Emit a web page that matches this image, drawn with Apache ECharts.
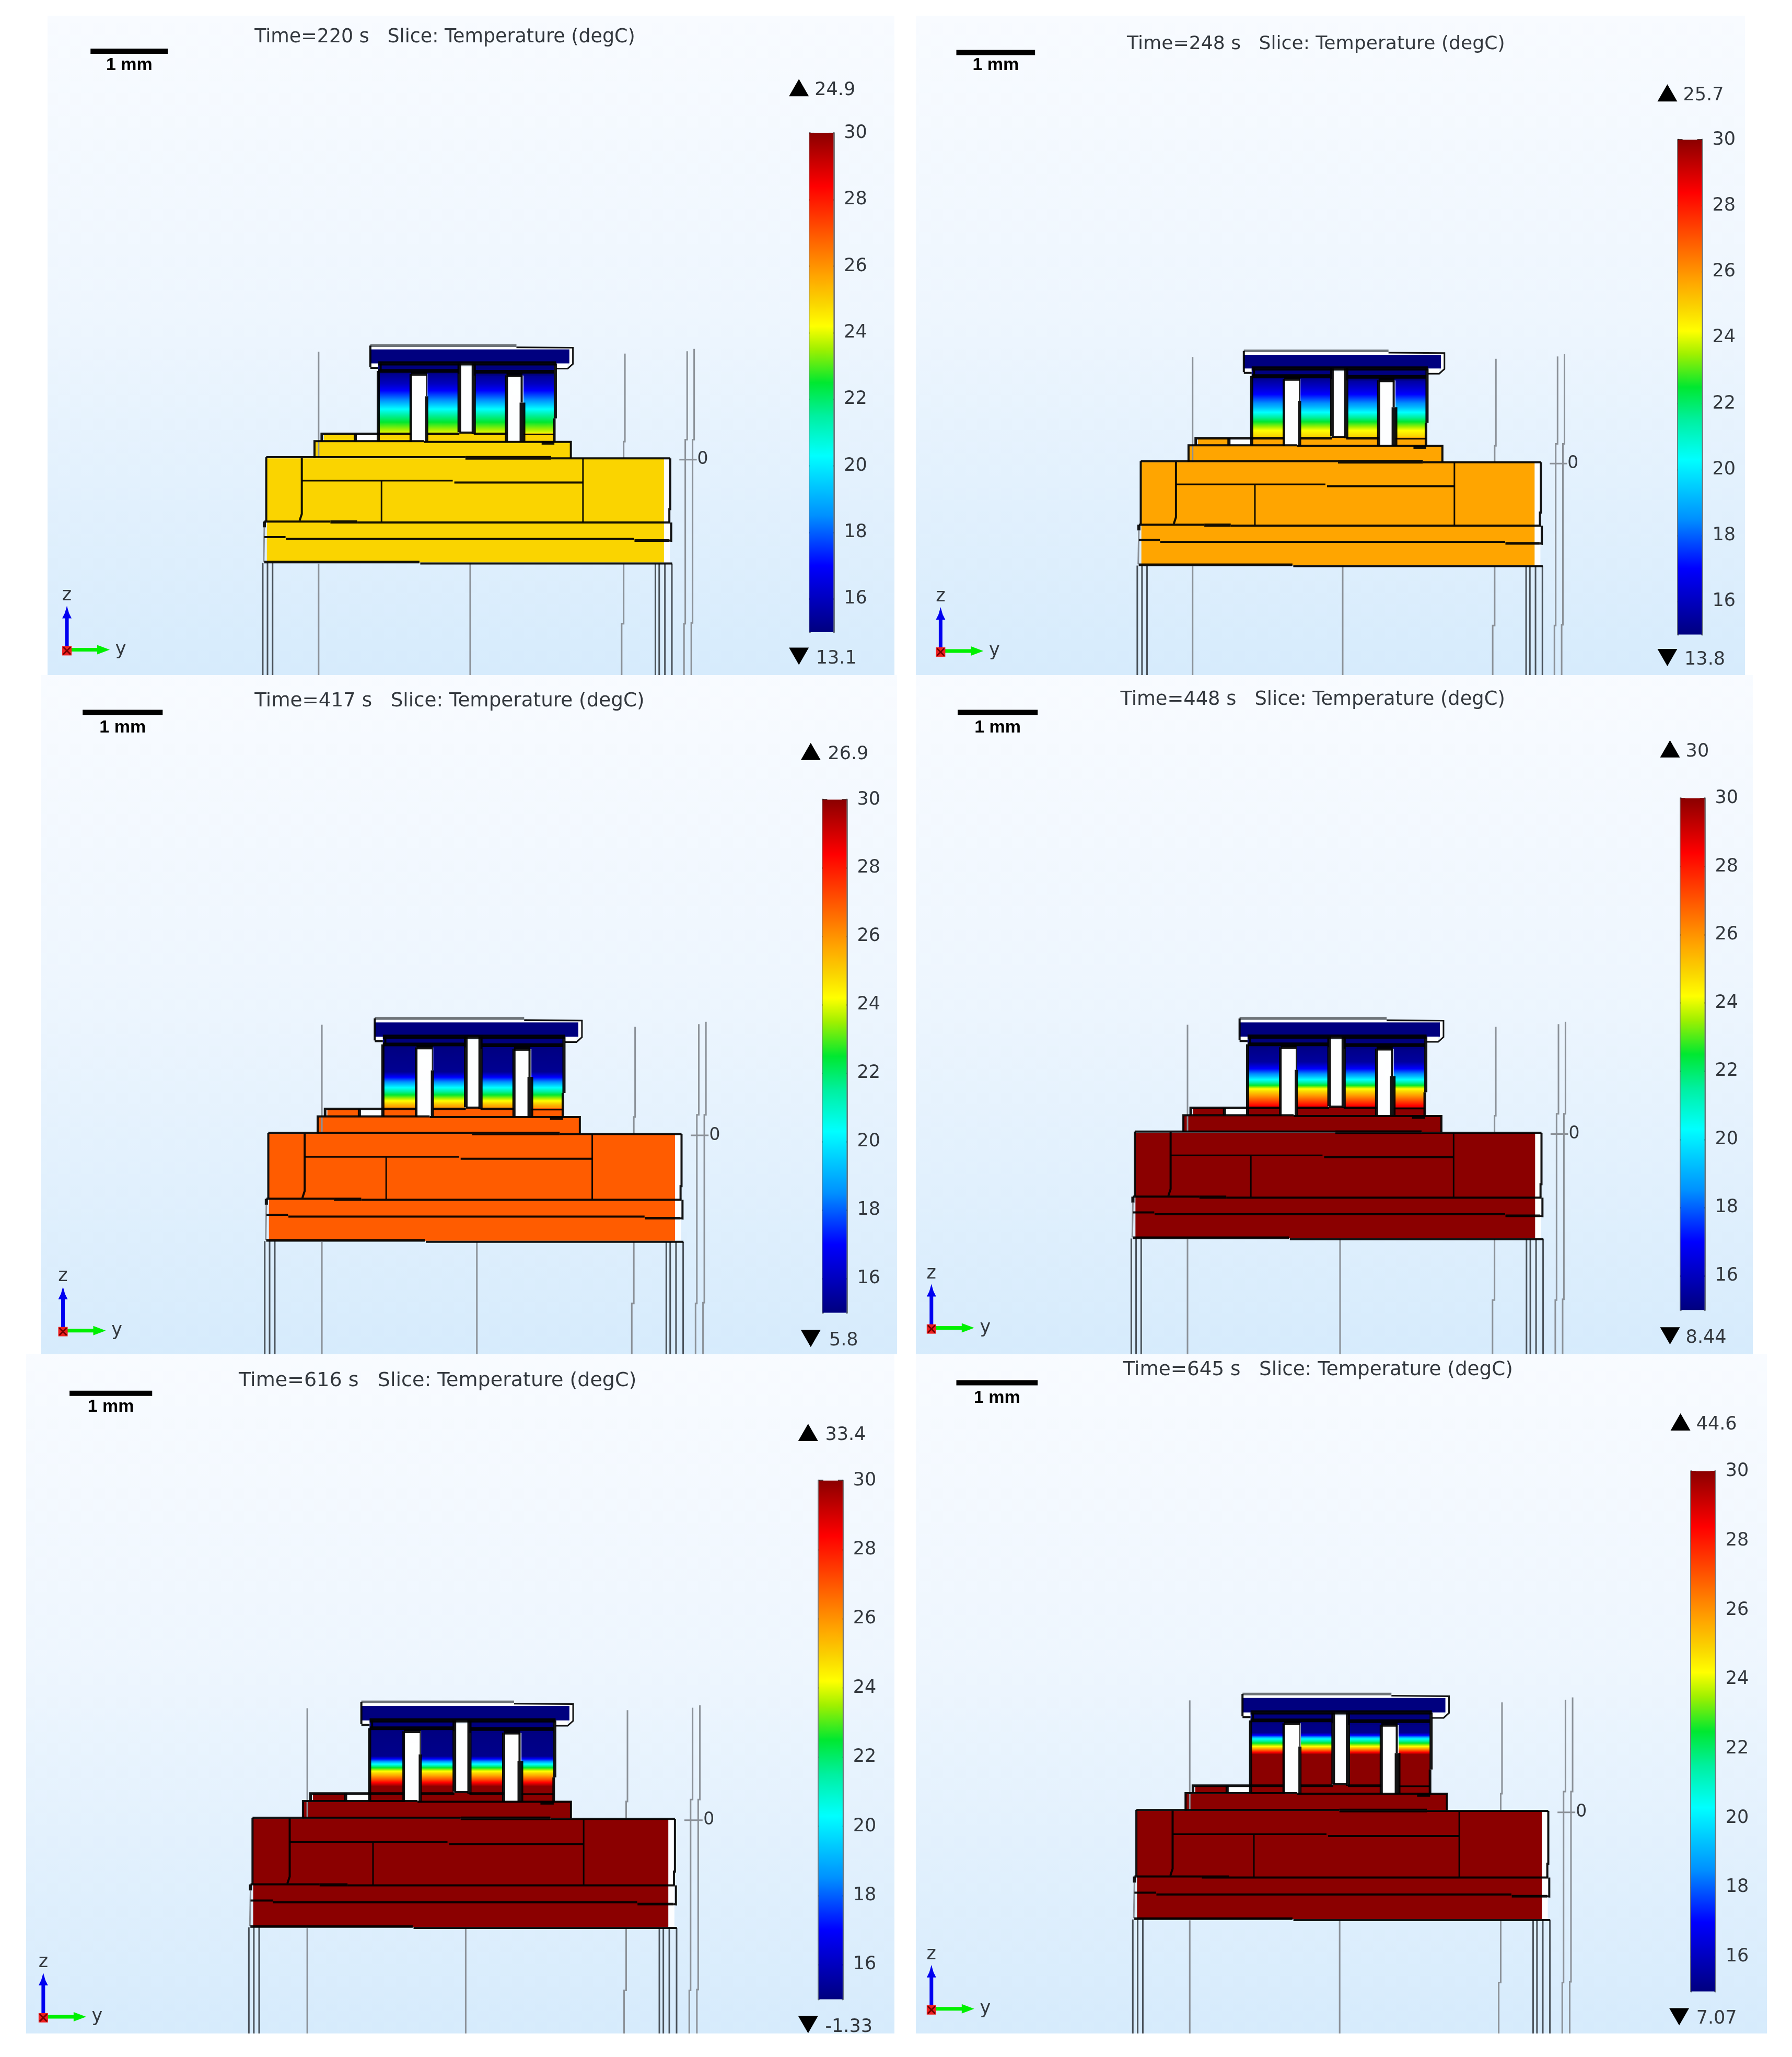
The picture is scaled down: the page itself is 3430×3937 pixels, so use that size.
<!DOCTYPE html>
<html><head><meta charset="utf-8">
<style>html,body{margin:0;padding:0;background:#fff}#c{width:3430px;height:3937px}</style>
<script src="https://cdn.jsdelivr.net/npm/echarts@6/dist/echarts.min.js"></script>
</head><body><div id="c"></div>
<script>
// ---------- chart values ----------
const times = [220, 248, 417, 448, 616, 645];
const maxTemps = ['24.9', '25.7', '26.9', '30', '33.4', '44.6'];
const minTemps = ['13.1', '13.8', '5.8', '8.44', '-1.33', '7.07'];
const blockTemps = [24.9, 25.7, 26.9, 30, 30, 30];
const colorTicks = [16, 18, 20, 22, 24, 26, 28, 30];
// temperature (degC) -> colour table of the legend
const mapT = [15, 17, 18.5, 20.3, 21.5, 22.5, 23.5, 24.2, 24.9, 25.7, 26.9, 28.4, 30];
const mapC = ['#00007f', '#0000ff', '#0090ff', '#00ffff', '#00f0a0', '#00e830', '#a0f000', '#ffff00', '#fad400', '#ffa500', '#ff5c00', '#ff0000', '#8b0000'];
// pillar temperature profiles: height z (um) and temperature (degC)
const profZ1 = [1100, 940, 852, 730, 617, 540, 452, 314]; const profT1 = [15, 16, 17, 18.5, 20.3, 21.5, 22.5, 24];
const profZ2 = [1100, 954, 866, 711, 634, 513, 402, 314]; const profT2 = [15, 16.2, 17, 19, 20.3, 22.5, 24.2, 25];
const profZ3 = [1100, 762, 695, 586, 477, 412, 346, 314]; const profT3 = [15, 15.3, 17, 19.8, 22.5, 24, 25.5, 26];
const profZ4 = [1100, 879, 793, 705, 651, 586, 542, 466, 401, 336, 314]; const profT4 = [15, 15.5, 17, 19, 20.5, 22.5, 24.2, 25.7, 27, 28.3, 28.8];
const profZ5 = [1100, 759, 705, 662, 618, 575, 521, 477, 434, 390, 314]; const profT5 = [15, 15.2, 18, 20.3, 22.5, 24.2, 25.7, 27, 28.5, 30, 30];
const profZ6 = [1100, 949, 917, 874, 822, 779, 748, 716, 684, 314]; const profT6 = [15, 15.2, 17, 20.3, 22.5, 24.3, 26, 28, 30, 30];
const profiles = [[profZ1, profT1], [profZ2, profT2], [profZ3, profT3], [profZ4, profT4], [profZ5, profT5], [profZ6, profT6]];
// device geometry in micrometres: [y0, y1, z0, z1]
const baseBlock = [-2566, 2446, -1325, -6];
const stepBlock = [-1965, 1271, 0, 205];
const padBlocks = [[-1845, -1456, 211, 303], [-1160, -749, 203, 314], [-538, 451, 203, 314], [673, 1060, 203, 314]];
const pillars = [[-1160, -749], [-538, -149], [62, 451], [673, 1060]];
const pillarZ = [314, 1100];
const coldBlocks = [[-1260, 1252, 1196, 1373], [-1160, -137, 1064, 1196], [45, 1060, 1042, 1196]];
const voids = [[-738, -549, 203, 1064], [-127, 24, 325, 1153], [473, 650, 203, 1042], [-1432, -1163, 225, 290], [-1240, 584, 1373, 1406], [584, 1290, 1373, 1392], [1252, 1290, 1150, 1395], [1060, 1230, 1138, 1196], [-1250, -1160, 1150, 1196], [2446, 2520, -1325, -6]];
const blackLines = [
  [4, [[-2574, 8], [-60, 8]]], [7, [[-60, 0], [1022, 0]]], [4, [[1022, -6], [2526, -6]]],
  [4, [[-2574, 8], [-2574, -800]]], [6, [[-2598, -806], [-2598, -880]]], [4, [[2526, -6], [2526, -650], [2514, -650], [2514, -815]]],
  [4, [[2538, -818], [2538, -1050], [2510, -1046]]],
  [4, [[-2125, 0], [-2125, -710], [-2153, -795]]], [3, [[-2125, -289], [-220, -289]]], [4, [[-200, -312], [1424, -312]]],
  [3, [[1424, -6], [1424, -815]]], [3, [[-1119, -295], [-1119, -810]]],
  [4, [[-2598, -806], [-1764, -806]]], [6, [[-1764, -812], [-1427, -812]]], [4, [[-1427, -818], [2526, -818]]],
  [4, [[-2598, -1003], [-2330, -1003]]], [4, [[-2326, -1026], [2070, -1026]]], [5, [[2074, -1046], [2510, -1046]]],
  [5, [[-2600, -1320], [-640, -1320]]], [4, [[-630, -1338], [2550, -1338]]],
  [4, [[-1965, 0], [-1965, 212], [-583, 212]]], [4, [[-582, 203], [1271, 203], [1271, 0]]], [6, [[902, 187], [1063, 187]]],
  [5, [[-1873, 211], [-1873, 303], [-749, 303]]], [6, [[-1450, 211], [-1450, 303]]], [5, [[-538, 303], [-137, 303]]], [5, [[45, 303], [458, 303]]], [3, [[673, 296], [1060, 296]]],
  [4, [[-1260, 1150], [-1260, 1422]]], [3, [[1085, 1130], [1230, 1130], [1297, 1190], [1297, 1395], [584, 1400]]], [4, [[-1260, 1140], [-1160, 1140]]],
  [8, [[-1160, 1196], [1085, 1196]]], [7, [[-1160, 1100], [-149, 1100]]], [7, [[62, 1090], [1060, 1090]]],
  [6, [[-1160, 1100], [-1160, 210]]], [4, [[-1130, 1196], [-1130, 1100]]], [5, [[-749, 1064], [-749, 203]]],
  [2, [[-549, 1064], [-549, 780]]], [6, [[-549, 780], [-549, 203]]], [8, [[-745, 1066], [-545, 1066]]],
  [7, [[-137, 1196], [-137, 325]]], [4, [[-137, 320], [30, 320]]], [8, [[45, 1196], [45, 300]]],
  [6, [[458, 1045], [458, 203]]], [8, [[458, 1048], [660, 1048]]], [4, [[650, 1042], [650, 700]]], [11, [[660, 700], [660, 203]]],
  [6, [[1075, 1196], [1075, 500]]], [5, [[1062, 500], [1062, 203]]]
];
const greyTopLine = [[-1260, 1422], [584, 1422]];
const frameLines = [
  [[-2598, -880], [-2606, -1315]], [[-1913, 1344], [-1913, 0]], [[-1913, -1340], [-1913, -3300]],
  [[1953, 1320], [1953, 205], [1937, 205], [1937, 0]], [[1937, -1340], [1937, -2100], [1912, -2100], [1912, -3300]],
  [[2739, 1350], [2739, 230], [2715, 230], [2715, -2100], [2699, -2100], [2699, -3300]],
  [[2827, 1380], [2827, 230], [2807, 230], [2807, -2090], [2791, -2090], [2791, -3300]],
  [[2640, -23], [2860, -23]]
];
const centreLineY = [0, 0, 0, 0, 0, -57];
const legLines = [[-2618, -1330], [-2558, -1330], [-2494, -1330], [2338, -1340], [2386, -1340], [2458, -1340], [2546, -1340]];
const zeroLabel = [2935, -23];
// ---------- layout (full-size panel rectangles, reference scale) ----------
const K = 3430 / 1366;
const panels = [[91, 30, 1712, 1292], [1753, 30, 3340, 1292], [78, 1292, 1717, 2592], [1753, 1292, 3355, 2592], [50, 2592, 1712, 3892], [1753, 2592, 3382, 3892]];
const cal = [[203, 511, 358.4, 349, 429], [869, 1174, 1023.5, 352, 431], [204, 519, 363.5, 864, 946], [864, 1174, 1021.5, 863, 944], [192, 514, 355, 1386, 1469], [866, 1180, 1024.7, 1380, 1463]];
const bars = [[617, 101.5, 456.5], [1279, 106.5, 458.5], [627, 609.5, 974.5], [1281, 608.5, 972.5], [624, 1128.5, 1497.5], [1289, 1121.5, 1491.5]];
const titlePos = [[194, 28.5, 290], [859, 33.5, 288], [194, 534.5, 297], [854, 533.5, 293], [182, 1052.5, 303], [856, 1044.5, 297]];
const upPos = [[609, 67, 621], [1271, 71, 1283], [618, 573, 631], [1273, 571, 1285], [616, 1092, 629], [1281, 1084, 1293]];
const downPos = [[609, 500, 622], [1271, 501, 1284], [618, 1020, 632], [1273, 1018, 1285], [616, 1543, 629], [1280, 1537, 1293]];
const scalePos = [[69, 128, 39, 49.5], [729, 789, 40, 49.5], [63, 124, 543, 554.5], [730, 791, 543, 554.5], [53, 116, 1062, 1072.5], [729, 791, 1054, 1065.5]];
const triad = [[51, 496], [717, 497], [48, 1015], [710, 1013], [33, 1538], [710, 1532]];
const FONT = '"DejaVu Sans"';
const TXT = '#33383e';

function hex(c) { return [1, 3, 5].map(i => parseInt(c.substr(i, 2), 16)); }
function colorAt(t) {
  if (t <= mapT[0]) return mapC[0];
  for (let i = 1; i < mapT.length; i++) if (t <= mapT[i]) {
    const f = (t - mapT[i - 1]) / (mapT[i] - mapT[i - 1]), a = hex(mapC[i - 1]), b = hex(mapC[i]);
    return 'rgb(' + a.map((v, k) => Math.round(v + (b[k] - v) * f)).join(',') + ')';
  }
  return mapC[mapC.length - 1];
}
function gradientFor(zs, ts) { // top (z max) -> bottom
  const top = zs[0], bot = zs[zs.length - 1], stops = [];
  zs.forEach((z, i) => stops.push({ offset: (top - z) / (top - bot), color: colorAt(ts[i]) }));
  for (let i = 1; i < zs.length; i++) mapT.forEach(m => {
    if (m > ts[i - 1] && m < ts[i]) {
      const f = (m - ts[i - 1]) / (ts[i] - ts[i - 1]);
      stops.push({ offset: (top - (zs[i - 1] + (zs[i] - zs[i - 1]) * f)) / (top - bot), color: colorAt(m) });
    }
  });
  stops.sort((a, b) => a.offset - b.offset);
  return new echarts.graphic.LinearGradient(0, 0, 0, 1, stops);
}
const grid = [], xAxis = [], yAxis = [], series = [], graphic = [];
panels.forEach((p, n) => {
  const c = cal[n];
  const sx = (c[1] - c[0]) * K / 5100, sz = (c[4] - c[3]) * K / 1329;
  const xc = c[2] * K, z0 = c[3] * K;
  const g = grid.length, xi = xAxis.length, yi = yAxis.length;
  grid.push({
    left: p[0], top: p[1], width: p[2] - p[0], height: p[3] - p[1], show: true, borderWidth: 0,
    backgroundColor: new echarts.graphic.LinearGradient(0, 0, 0, 1, [{ offset: 0, color: '#f8fbff' }, { offset: 0.45, color: '#eef6fe' }, { offset: 1, color: '#d6ebfc' }])
  });
  xAxis.push({ type: 'value', gridIndex: g, show: false, min: (p[0] - xc) / sx, max: (p[2] - xc) / sx });
  yAxis.push({ type: 'value', gridIndex: g, show: false, min: (z0 - p[3]) / sz, max: (z0 - p[1]) / sz });
  const block = colorAt(blockTemps[n]);
  const rects = [];
  voids.forEach(r => rects.push([r, '#ffffff', 0.92]));
  rects.push([baseBlock, block, 1], [stepBlock, block, 1]);
  padBlocks.forEach(r => rects.push([r, block, 1]));
  const pr = profiles[n], grad = gradientFor(pr[0], pr[1]);
  pillars.forEach(r => rects.push([[r[0], r[1], pillarZ[0], pillarZ[1]], grad, 1]));
  coldBlocks.forEach(r => rects.push([r, '#00007f', 1]));
  series.push({
    type: 'custom', xAxisIndex: xi, yAxisIndex: yi, silent: true, clip: true, z: 3,
    data: rects.map((r, i) => [i]),
    renderItem(params, api) {
      const r = rects[params.dataIndex], a = api.coord([r[0][0], r[0][3]]), b = api.coord([r[0][1], r[0][2]]);
      return { type: 'rect', shape: { x: a[0], y: a[1], width: b[0] - a[0], height: b[1] - a[1] }, style: { fill: r[1], opacity: r[2] } };
    }
  });
  const lines = [];
  frameLines.forEach(l => lines.push([l, '#8b9198', 3]));
  lines.push([[[centreLineY[n], -1340], [centreLineY[n], -3300]], '#8b9198', 3]);
  legLines.forEach(l => lines.push([[l, [l[0], -3300]], '#4a525a', 3]));
  lines.push([greyTopLine, '#6d7378', 5]);
  blackLines.forEach(l => lines.push([l[1], 'rgba(0,0,0,0.92)', l[0]]));
  series.push({
    type: 'custom', xAxisIndex: xi, yAxisIndex: yi, silent: true, clip: true, z: 4,
    data: lines.map((r, i) => [i]),
    renderItem(params, api) {
      const r = lines[params.dataIndex];
      return { type: 'polyline', shape: { points: r[0].map(q => api.coord(q)) }, style: { stroke: r[1], lineWidth: r[2], fill: null } };
    }
  });
  series.push({
    type: 'custom', xAxisIndex: xi, yAxisIndex: yi, silent: true, clip: false, z: 5,
    data: [zeroLabel],
    renderItem(params, api) {
      const q = api.coord([api.value(0), api.value(1)]);
      return { type: 'text', x: q[0], y: q[1], style: { text: '0', fill: TXT, fontFamily: FONT, fontSize: 33, align: 'center', verticalAlign: 'middle' } };
    }
  });
  // colour legend
  const b = bars[n], gb = grid.length, top = b[1] * K, per = (b[2] - b[1]) * K / 14;
  const xb = xAxis.length, yb = yAxis.length;
  grid.push({ left: b[0] * K, top: top, width: 46, height: per * 15, borderWidth: 0, show: false });
  xAxis.push({ type: 'value', gridIndex: gb, show: false, min: 0, max: 1 });
  const barAxis = (pos, labels) => ({
    type: 'value', gridIndex: gb, position: pos, min: 15, max: 30,
    splitLine: { show: false },
    axisLine: { show: true, onZero: false, lineStyle: { color: 'rgba(0,0,0,0.5)', width: 4 } },
    axisTick: { show: true, inside: true, length: 9, customValues: colorTicks, lineStyle: { color: 'rgba(0,0,0,0.75)', width: 3 } },
    axisLabel: labels ? { show: true, customValues: colorTicks, margin: 20, color: TXT, fontFamily: FONT, fontSize: 35, padding: [8, 0, 0, 0] } : { show: false }
  });
  yAxis.push(barAxis('left', false));
  yAxis.push(barAxis('right', true));
  series.push({
    type: 'custom', xAxisIndex: xb, yAxisIndex: yb, silent: true, z: 1,
    data: [[0, 1, 15, 30]],
    renderItem(params, api) {
      const a = api.coord([api.value(0), api.value(3)]), d = api.coord([api.value(1), api.value(2)]);
      return { type: 'rect', shape: { x: a[0], y: a[1], width: d[0] - a[0], height: d[1] - a[1] },
        style: { fill: gradientFor(mapT.slice().reverse(), mapT.slice().reverse()) } };
    }
  });
  // texts and decorations
  const t = titlePos[n];
  graphic.push({ type: 'text', x: t[0] * K, y: t[1] * K, z: 20, style: { text: 'Time=' + times[n] + ' s   Slice: Temperature (degC)', fontFamily: FONT, fontSize: t[2] * 0.1256, fill: TXT, verticalAlign: 'middle' } });
  const u = upPos[n], d = downPos[n], ux = u[0] * K, uy = u[1] * K, dx = d[0] * K, dy = d[1] * K;
  graphic.push({ type: 'polygon', z: 20, shape: { points: [[ux - 19, uy + 16], [ux + 19, uy + 16], [ux, uy - 17]] }, style: { fill: '#000' } });
  graphic.push({ type: 'polygon', z: 20, shape: { points: [[dx - 19, dy - 16], [dx + 19, dy - 16], [dx, dy + 17]] }, style: { fill: '#000' } });
  graphic.push({ type: 'text', x: u[2] * K, y: uy + 5, z: 20, style: { text: maxTemps[n], fontFamily: FONT, fontSize: 35, fill: TXT, verticalAlign: 'middle' } });
  graphic.push({ type: 'text', x: d[2] * K, y: dy + 5, z: 20, style: { text: minTemps[n], fontFamily: FONT, fontSize: 35, fill: TXT, verticalAlign: 'middle' } });
  const s = scalePos[n];
  graphic.push({ type: 'rect', z: 20, shape: { x: s[0] * K, y: s[2] * K - 5, width: (s[1] - s[0]) * K, height: 10 }, style: { fill: '#000' } });
  graphic.push({ type: 'text', x: (s[0] + s[1]) / 2 * K, y: s[3] * K, z: 20, style: { text: '1 mm', fontFamily: '"Liberation Sans"', fontWeight: 'bold', fontSize: 34, fill: '#000', align: 'center', verticalAlign: 'middle' } });
  const o = triad[n], ox = o[0] * K, oy = o[1] * K;
  graphic.push({ type: 'line', z: 20, shape: { x1: ox, y1: oy, x2: ox, y2: oy - 70 }, style: { stroke: '#0000f0', lineWidth: 7 } });
  graphic.push({ type: 'polygon', z: 20, shape: { points: [[ox - 9, oy - 62], [ox + 9, oy - 62], [ox + 4, oy - 72], [ox, oy - 86], [ox - 4, oy - 72]] }, style: { fill: '#0000f0' } });
  graphic.push({ type: 'line', z: 20, shape: { x1: ox + 8, y1: oy - 2, x2: ox + 60, y2: oy - 2 }, style: { stroke: '#00f000', lineWidth: 7 } });
  graphic.push({ type: 'polygon', z: 20, shape: { points: [[ox + 58, oy - 11], [ox + 58, oy + 7], [ox + 82, oy - 2]] }, style: { fill: '#00f000' } });
  graphic.push({ type: 'rect', z: 21, shape: { x: ox - 9, y: oy - 9, width: 18, height: 18 }, style: { fill: '#f02020' } });
  graphic.push({ type: 'polyline', z: 22, shape: { points: [[ox - 7, oy - 7], [ox + 7, oy + 7]] }, style: { stroke: '#700', lineWidth: 3, fill: null } });
  graphic.push({ type: 'polyline', z: 22, shape: { points: [[ox + 7, oy - 7], [ox - 7, oy + 7]] }, style: { stroke: '#700', lineWidth: 3, fill: null } });
  graphic.push({ type: 'text', x: ox, y: oy - 106, z: 20, style: { text: 'z', fontFamily: FONT, fontSize: 35, fill: TXT, align: 'center', verticalAlign: 'middle' } });
  graphic.push({ type: 'text', x: ox + 103, y: oy - 2, z: 20, style: { text: 'y', fontFamily: FONT, fontSize: 35, fill: TXT, align: 'center', verticalAlign: 'middle' } });
});
const chart = echarts.init(document.getElementById('c'), null, { renderer: 'canvas' });
chart.setOption({ animation: false, backgroundColor: '#ffffff', grid, xAxis, yAxis, series, graphic: { elements: graphic } });
</script></body></html>
